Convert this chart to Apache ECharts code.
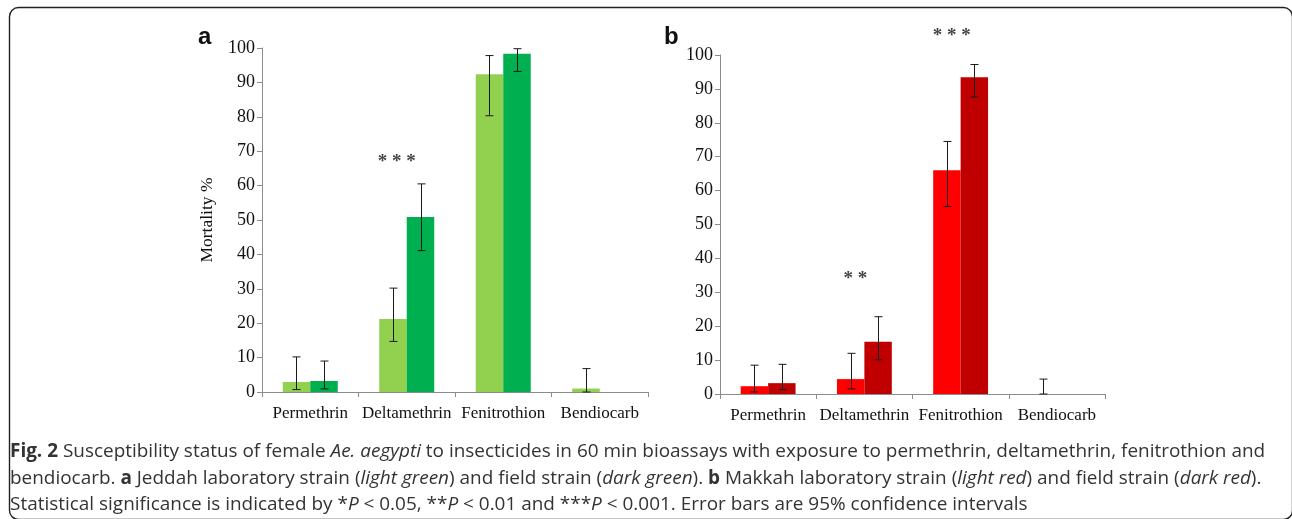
<!DOCTYPE html>
<html>
<head>
<meta charset="utf-8">
<script src="https://cdn.jsdelivr.net/npm/echarts@6/dist/echarts.min.js"></script>
<style>
  html, body { margin: 0; padding: 0; background: #fff; }
  #chart { width: 1292px; height: 519px; }
</style>
</head>
<body>
<div id="chart"></div>
<script>
// categories
const categories = ['Permethrin', 'Deltamethrin', 'Fenitrothion', 'Bendiocarb'];
const yTicks = [0, 10, 20, 30, 40, 50, 60, 70, 80, 90, 100];

// panel a: Jeddah
const jeddahLab = [2.9, 21.2, 92.4, 1.0];
const jeddahLabLow = [0.7, 14.7, 80.3, 0];
const jeddahLabHigh = [10.2, 30.2, 97.8, 6.8];
const jeddahField = [3.2, 50.9, 98.3, 0];
const jeddahFieldLow = [0.9, 41.1, 93.2, null];
const jeddahFieldHigh = [9.0, 60.5, 99.8, null];
const jeddahStars = ['', '* * *', '', ''];
const jeddahStarLevel = [null, 66.9, null, null];

// panel b: Makkah
const makkahLab = [2.3, 4.4, 66.0, 0];
const makkahLabLow = [0.6, 1.5, 55.3, 0];
const makkahLabHigh = [8.5, 12.0, 74.5, 4.4];
const makkahField = [3.2, 15.4, 93.4, 0];
const makkahFieldLow = [1.3, 10.1, 87.6, null];
const makkahFieldHigh = [8.75, 22.8, 97.2, null];
const makkahStars = ['', '* *', '* * *', ''];
const makkahStarLevel = [null, 33.9, 105.7, null];

const BAR_FRAC = 0.285;
const serif = '"Liberation Serif", "Times New Roman", serif';
const axisGray = '#8c8c8c';

const chart = echarts.init(document.getElementById('chart'));

// 误差线数据
const errData = (low, high) => low.map((l, i) => (l === null ? null : [i, l, high[i]])).filter(d => d);

const errorItem = (side) => (params, api) => {
  const x = api.value(0);
  const lo = api.coord([x, api.value(1)]);
  const hi = api.coord([x, api.value(2)]);
  const band = api.size([1, 0])[0];
  const cx = Math.round(lo[0] + side * band * BAR_FRAC / 2) + 0.5;
  const cap = 4;
  const st = { stroke: '#1a1a1a', lineWidth: 1 };
  return {
    type: 'group',
    children: [
      { type: 'line', shape: { x1: cx, y1: lo[1], x2: cx, y2: hi[1] }, style: st },
      { type: 'line', shape: { x1: cx - cap, y1: hi[1], x2: cx + cap, y2: hi[1] }, style: st },
      { type: 'line', shape: { x1: cx - cap, y1: lo[1], x2: cx + cap, y2: lo[1] }, style: st },
    ],
  };
};

const barSeries = (name, data, color, idx) => ({
  name, type: 'bar', data, xAxisIndex: idx, yAxisIndex: idx,
  barWidth: BAR_FRAC * 100 + '%', barGap: '0%',
  itemStyle: { color }, silent: true,
});

const errSeries = (low, high, side, idx) => ({
  type: 'custom', xAxisIndex: idx, yAxisIndex: idx, z: 5, silent: true,
  renderItem: errorItem(side), data: errData(low, high),
});

const starSeries = (labels, levels, idx, dx) => ({
  type: 'scatter', xAxisIndex: idx, yAxisIndex: idx, symbolSize: 0, silent: true, clip: false,
  data: levels.map((v, i) => (v === null ? null : { value: [i, v], label: { formatter: labels[i] } })).filter(d => d),
  label: { show: true, position: 'inside', offset: [dx, 0], color: '#111', fontFamily: serif, fontSize: 19, fontWeight: 'bold' },
});

const xAxisCfg = (idx) => ({
  type: 'category', data: categories, gridIndex: idx, boundaryGap: true,
  axisLine: { lineStyle: { color: axisGray } },
  axisTick: { show: true, length: 5, alignWithLabel: false, lineStyle: { color: axisGray } },
  axisLabel: { color: '#111', fontFamily: serif, fontSize: 17, margin: 13, interval: 0 },
});

const yAxisCfg = (idx, name) => ({
  type: 'value', gridIndex: idx, min: 0, max: 100, interval: 10,
  name, nameLocation: 'middle', nameRotate: 90, nameGap: 46,
  nameTextStyle: { color: '#111', fontFamily: serif, fontSize: 17.5 },
  axisLine: { show: true, lineStyle: { color: axisGray } },
  axisTick: { show: true, length: 5, lineStyle: { color: axisGray } },
  splitLine: { show: false },
  axisLabel: { color: '#111', fontFamily: serif, fontSize: 18, margin: 7,
    formatter: (v) => (yTicks.includes(v) ? String(v) : '') },
});

const capFont = '"Open Sans", "Noto Sans", sans-serif';
const capSize = 18.95;
const capStyle = { fontFamily: capFont, fontSize: capSize, fill: '#333' };
const rich = {
  b: { fontFamily: capFont, fontSize: capSize, fontWeight: 'bold', color: '#222' },
  i: { fontFamily: capFont, fontSize: capSize, fontStyle: 'italic', color: '#333' },
};
const captionLines = [
  '{b|Fig. 2} Susceptibility status of female {i|Ae. aegypti} to insecticides in 60 min bioassays with exposure to permethrin, deltamethrin, fenitrothion and',
  'bendiocarb. {b|a} Jeddah laboratory strain ({i|light green}) and field strain ({i|dark green}). {b|b} Makkah laboratory strain ({i|light red}) and field strain ({i|dark red}).',
  'Statistical significance is indicated by *{i|P} < 0.05, **{i|P} < 0.01 and ***{i|P} < 0.001. Error bars are 95% confidence intervals',
];
const captionY = [455, 482, 508];

chart.setOption({
  animation: false,
  backgroundColor: '#fff',
  grid: [
    { left: 262, top: 48, width: 386, height: 344 },
    { left: 720, top: 55, width: 385, height: 339 },
  ],
  xAxis: [xAxisCfg(0), xAxisCfg(1)],
  yAxis: [yAxisCfg(0, 'Mortality %'), yAxisCfg(1, '')],
  graphic: [
    { type: 'rect', shape: { x: 9.5, y: 7.5, width: 1283, height: 512, r: 9 }, style: { fill: 'none', stroke: '#222', lineWidth: 1.4 }, silent: true },
    { type: 'text', left: 198, top: 25, style: { text: 'a', fontFamily: '"Liberation Sans", Arial, sans-serif', fontWeight: 'bold', fontSize: 24, fill: '#111' } },
    { type: 'text', left: 664, top: 25, style: { text: 'b', fontFamily: '"Liberation Sans", Arial, sans-serif', fontWeight: 'bold', fontSize: 24, fill: '#111' } },
    ...captionLines.map((t, i) => ({
      type: 'text', left: 10, top: captionY[i] - 13,
      style: Object.assign({ text: t, rich }, capStyle),
    })),
  ],
  series: [
    barSeries('Jeddah laboratory', jeddahLab, '#92d050', 0),
    barSeries('Jeddah field', jeddahField, '#00b050', 0),
    errSeries(jeddahLabLow, jeddahLabHigh, -1, 0),
    errSeries(jeddahFieldLow, jeddahFieldHigh, 1, 0),
    starSeries(jeddahStars, jeddahStarLevel, 0, -10),
    barSeries('Makkah laboratory', makkahLab, '#ff0000', 1),
    barSeries('Makkah field', makkahField, '#c00000', 1),
    errSeries(makkahLabLow, makkahLabHigh, -1, 1),
    errSeries(makkahFieldLow, makkahFieldHigh, 1, 1),
    starSeries(makkahStars, makkahStarLevel, 1, -9),
  ],
});
</script>
</body>
</html>
